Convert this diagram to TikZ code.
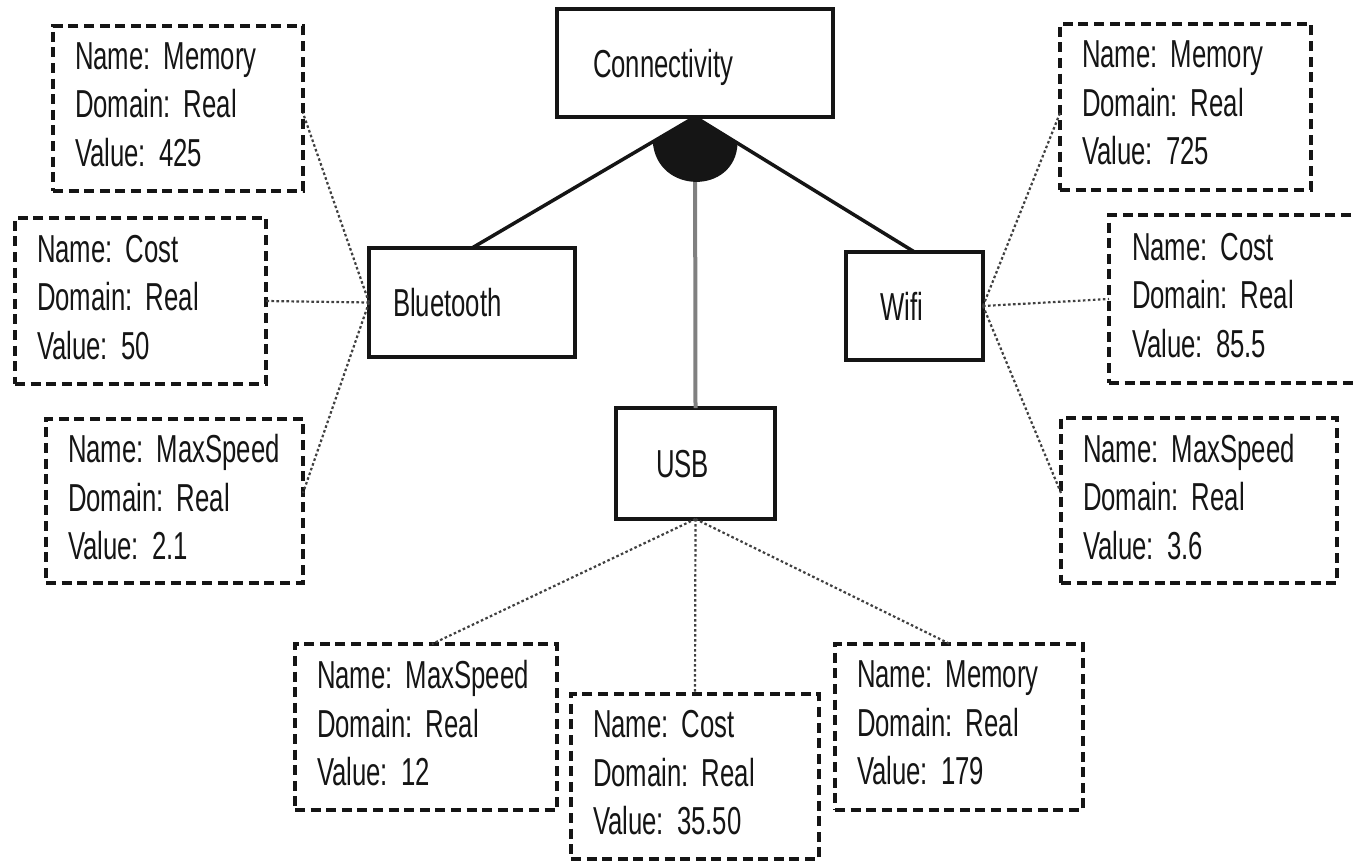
\documentclass[tikz,border=0pt]{standalone}
\usepackage{fontspec}
\setmainfont{Liberation Sans}[FakeStretch=0.66, WordSpace=0.66]
\usetikzlibrary{calc}
\definecolor{ink}{HTML}{151515}
\begin{document}
\frenchspacing
\begin{tikzpicture}[x=1pt,y=-1pt,
  every node/.style={font=\fontsize{39}{48.5}\selectfont\frenchspacing, text=ink, outer sep=0pt},
  feature/.style={draw=ink, line width=3.5pt, rectangle, align=left,
    text height=28pt, text depth=0pt, anchor=north west},
  attr/.style={draw=ink, line width=3.2pt, dash pattern=on 10pt off 5.6pt,
    rectangle, align=left, inner xsep=0pt, anchor=north west},
  link/.style={draw=ink, line width=3.5pt},
  usblink/.style={draw=black!50, line width=4pt},
  dots/.style={draw=black!75, line width=2.2pt, dash pattern=on 2.6pt off 2.4pt}
]
\useasboundingbox (0,0) rectangle (1357,862);

% features
\node[feature, minimum width=276pt, minimum height=108pt, text width=204pt] (conn) at (557,9) {Connectivity};
\node[feature, minimum width=206pt, minimum height=109pt, text width=158pt] (bt) at (369,248) {Bluetooth};
\node[feature, minimum width=137pt, minimum height=108pt, text width=69pt] (wifi) at (846,252) {Wifi};
\node[feature, minimum width=159pt, minimum height=111pt, text width=79pt] (usb) at (616,408) {USB};

% attributes of Bluetooth
\node[attr, minimum width=250pt, minimum height=165pt, text width=206pt] (bm) at (53,26)
  {Name: Memory\\Domain: Real\\Value: 425\rule[-8pt]{0pt}{8pt}};
\node[attr, minimum width=251pt, minimum height=166pt, text width=207pt] (bc) at (15,218)
  {Name: Cost\\Domain: Real\\Value: 50\rule[-8pt]{0pt}{8pt}};
\node[attr, minimum width=257pt, minimum height=164pt, text width=213pt] (bs) at (46,419)
  {\mbox{Name: MaxSpeed}\\Domain: Real\\Value: 2.1\rule[-8pt]{0pt}{8pt}};

% attributes of Wifi
\node[attr, minimum width=251pt, minimum height=166pt, text width=207pt] (wm) at (1060,24)
  {Name: Memory\\Domain: Real\\Value: 725\rule[-8pt]{0pt}{8pt}};
\node[attr, minimum width=271pt, minimum height=168pt, text width=225pt] (wc) at (1109,215)
  {Name: Cost\\Domain: Real\\Value: 85.5\rule[-8pt]{0pt}{8pt}};
\node[attr, minimum width=276pt, minimum height=165pt, text width=232pt] (ws) at (1061,418)
  {\mbox{Name: MaxSpeed}\\Domain: Real\\Value: 3.6\rule[-8pt]{0pt}{8pt}};

% attributes of USB
\node[attr, minimum width=262pt, minimum height=166pt, text width=218pt] (us) at (295,644)
  {\mbox{Name: MaxSpeed}\\Domain: Real\\Value: 12\rule[-8pt]{0pt}{8pt}};
\node[attr, minimum width=248pt, minimum height=165pt, text width=204pt] (uc) at (571,694)
  {Name: Cost\\Domain: Real\\Value: 35.50\rule[-8pt]{0pt}{8pt}};
\node[attr, minimum width=248pt, minimum height=166pt, text width=204pt] (um) at (835,644)
  {Name: Memory\\Domain: Real\\Value: 179\rule[-8pt]{0pt}{8pt}};

% decomposition links
\coordinate (apex) at (conn.south);
\draw[usblink] (conn.south) -- (usb.north);
\draw[link] (apex) -- (bt.north);
\draw[link] (apex) -- (wifi.north);
\coordinate (sl) at ($(apex)!49pt!(bt.north)$);
\coordinate (sr) at ($(apex)!50pt!(wifi.north)$);
\fill[ink] (apex) -- (sl) .. controls ($(sl)+(4,53)$) and ($(sr)+(-2,52)$) .. (sr) -- cycle;

% attribute links
\draw[dots] (bt.west) -- ([yshift=-4.5pt]bm.east);
\draw[dots] (bt.west) -- (bc.east);
\draw[dots] (bt.west) -- ([yshift=8pt]bs.east);
\draw[dots] (wifi.east) -- ([yshift=-6pt]wm.west);
\draw[dots] (wifi.east) -- (wc.west);
\draw[dots] (wifi.east) -- ([yshift=7.5pt]ws.west);
\draw[dots] (usb.south) -- ([xshift=6pt]us.north);
\draw[dots] (usb.south) -- (uc.north);
\draw[dots] (usb.south) -- ([xshift=-9pt]um.north);
\end{tikzpicture}
\end{document}
